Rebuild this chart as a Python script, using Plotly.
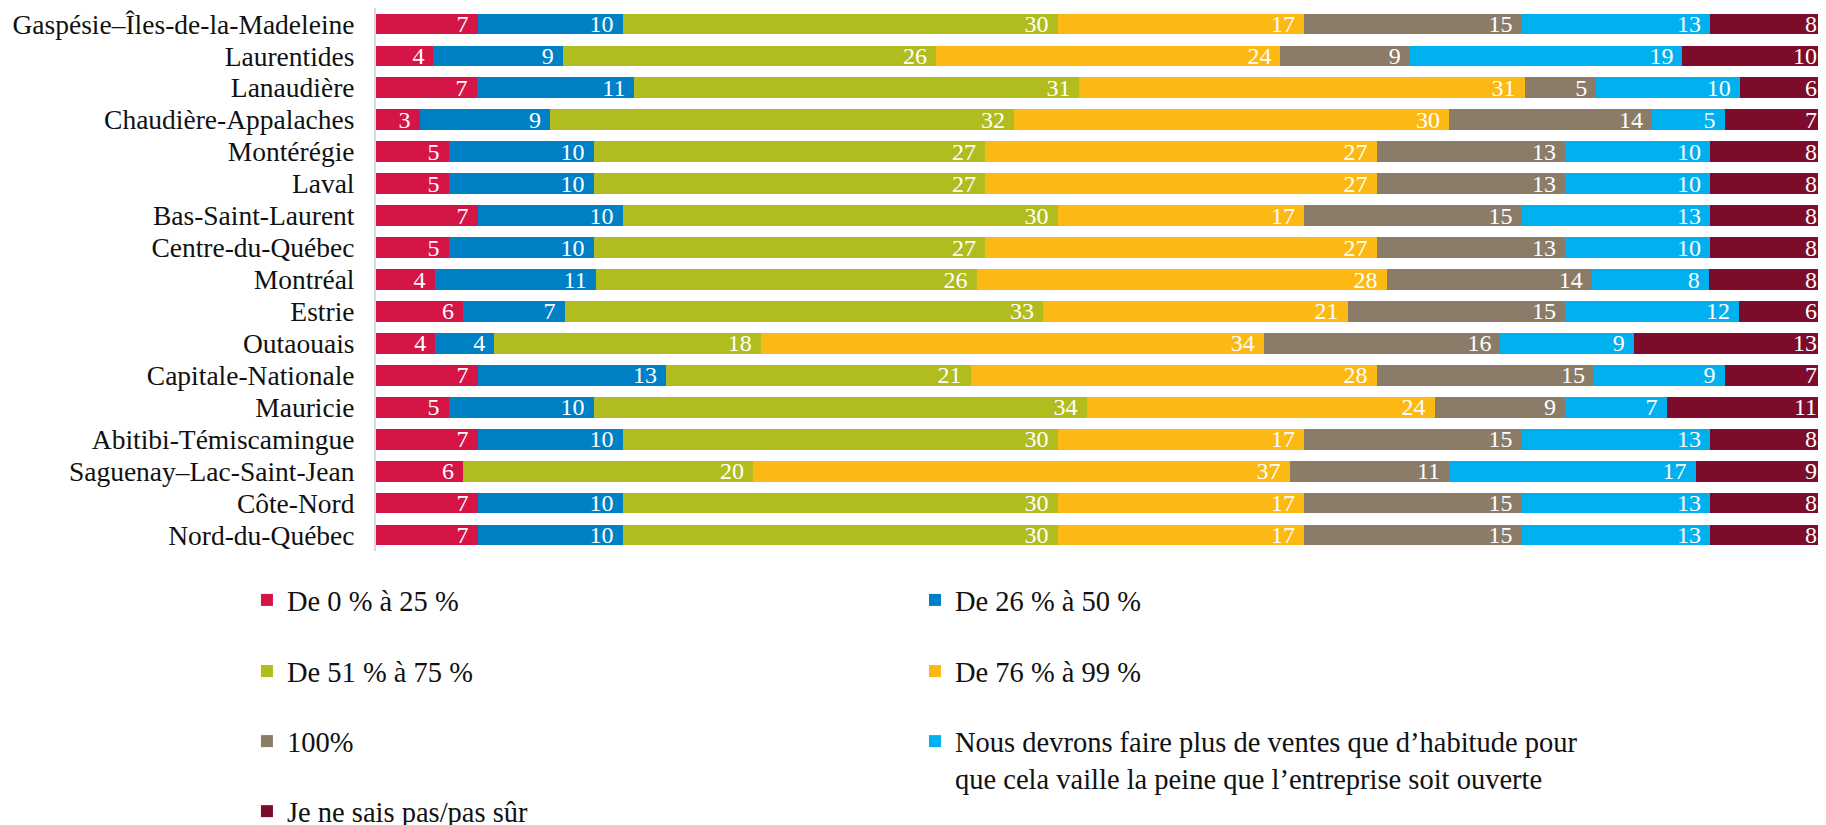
import plotly.graph_objects as go

# Regions, top to bottom as in the reference
regions = [
    "Gaspésie–Îles-de-la-Madeleine", "Laurentides", "Lanaudière",
    "Chaudière-Appalaches", "Montérégie", "Laval", "Bas-Saint-Laurent",
    "Centre-du-Québec", "Montréal", "Estrie", "Outaouais",
    "Capitale-Nationale", "Mauricie", "Abitibi-Témiscamingue",
    "Saguenay–Lac-Saint-Jean", "Côte-Nord", "Nord-du-Québec",
]

de_0_25 = [7, 4, 7, 3, 5, 5, 7, 5, 4, 6, 4, 7, 5, 7, 6, 7, 7]
de_26_50 = [10, 9, 11, 9, 10, 10, 10, 10, 11, 7, 4, 13, 10, 10, 0, 10, 10]
de_51_75 = [30, 26, 31, 32, 27, 27, 30, 27, 26, 33, 18, 21, 34, 30, 20, 30, 30]
de_76_99 = [17, 24, 31, 30, 27, 27, 17, 27, 28, 21, 34, 28, 24, 17, 37, 17, 17]
cent = [15, 9, 5, 14, 13, 13, 15, 13, 14, 15, 16, 15, 9, 15, 11, 15, 15]
plus_ventes = [13, 19, 10, 5, 10, 10, 13, 10, 8, 12, 9, 9, 7, 13, 17, 13, 13]
ne_sais_pas = [8, 10, 6, 7, 8, 8, 8, 8, 8, 6, 13, 7, 11, 8, 9, 8, 8]

series_names = [
    "De 0 % à 25 %",
    "De 26 % à 50 %",
    "De 51 % à 75 %",
    "De 76 % à 99 %",
    "100%",
    "Nous devrons faire plus de ventes que d’habitude pour<br>que cela vaille la peine que l’entreprise soit ouverte",
    "Je ne sais pas/pas sûr",
]
series_values = [de_0_25, de_26_50, de_51_75, de_76_99, cent, plus_ventes, ne_sais_pas]

colors = ["#D51546", "#0081C6", "#B1BC1F", "#FDB913", "#8B7B69", "#00B0EF", "#7D0B2A"]

font_family = "Liberation Serif"

# legend placement (paper coords): one legend per series, two columns
col1, col2 = -0.089, 0.3717
leg_x = [col1, col2, col1, col2, col1, col2, col1]
leg_y = [-0.044, -0.044, -0.175, -0.175, -0.304, -0.304, -0.433]

fig = go.Figure()
for i, (name, vals, col) in enumerate(zip(series_names, series_values, colors)):
    fig.add_trace(go.Bar(
        y=regions, x=vals, name=name, orientation="h",
        marker_color=col, marker_line_width=0,
        text=vals, texttemplate="%{text}\u00a0",
        textposition="inside", insidetextanchor="end", textangle=0,
        constraintext="none",
        textfont=dict(color="white", size=24, family=font_family),
        legend="legend" if i == 0 else "legend%d" % (i + 1),
        hoverinfo="skip",
    ))

legends = {}
for i in range(7):
    key = "legend" if i == 0 else "legend%d" % (i + 1)
    legends[key] = dict(
        x=leg_x[i], y=leg_y[i], xanchor="left", yanchor="top",
        valign="top", bgcolor="rgba(0,0,0,0)",
        font=dict(size=28.5, family=font_family, color="#111"),
        itemclick=False, itemdoubleclick=False,
    )

# the page adds an 8px body margin, so the figure is 8px smaller each way
fig.update_layout(
    barmode="stack", barnorm="percent", bargap=0.35,
    width=1818, height=817,
    margin=dict(l=368, r=0, t=0, b=274, autoexpand=False),
    paper_bgcolor="white", plot_bgcolor="white",
    font=dict(family=font_family, color="#111"),
    showlegend=True,
    **legends,
)
fig.update_xaxes(range=[0, 100], visible=False, fixedrange=True)
fig.update_yaxes(
    autorange="reversed", showgrid=False, ticks="",
    tickmode="linear", tick0=0, dtick=1,
    showline=True, linecolor="#D9D9D9", linewidth=2,
    ticklabelstandoff=14, tickfont=dict(size=27.5, family=font_family, color="#111"),
    fixedrange=True,
)

fig.write_html("out.html")
